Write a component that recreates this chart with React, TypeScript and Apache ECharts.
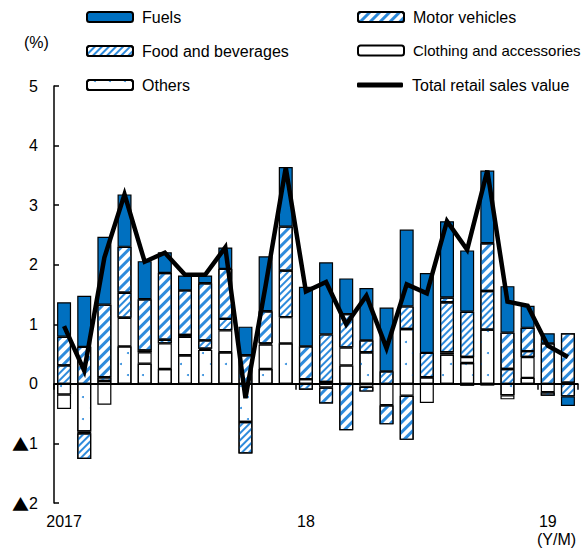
import React, { useEffect, useRef } from "react";
import * as echarts from "echarts";

const months = [
  "2017/1", "2017/2", "2017/3", "2017/4", "2017/5", "2017/6", "2017/7", "2017/8", "2017/9", "2017/10", "2017/11", "2017/12",
  "2018/1", "2018/2", "2018/3", "2018/4", "2018/5", "2018/6", "2018/7", "2018/8", "2018/9", "2018/10", "2018/11", "2018/12",
  "2019/1", "2019/2",
];
const yearLabels = ["2017", "18", "19"];

const others = [-0.18, -0.8, 0.05, 0.63, 0.34, 0.25, 0.48, 0.57, 0.53, -0.64, 0.25, 0.68, 0.08, 0.03, 0.31, 0.53, 0, 0.92, 0.11, 0.49, 0.35, 0.91, -0.19, 0.1, 0, 0.02];
const clothing = [-0.24, -0.03, -0.35, 0.48, 0.19, 0.43, 0.31, 0.02, 0.37, 0, 0.41, 0.44, 0, -0.06, 0.3, -0.05, -0.36, -0.2, -0.32, 0.04, 0.1, -0.03, -0.07, 0.35, -0.14, 0];
const food = [0.31, -0.43, 0.06, 0.42, 0.03, 0.06, 0.03, 0.14, 0.19, -0.53, 0.02, 0.78, -0.1, 0.8, 0.56, 0.2, 0.21, 0.38, 0.41, 0.84, 0.76, 0.65, 0.25, 0.1, -0.06, -0.21];
const motor = [0.48, 0.62, 1.22, 0.77, 0.86, 1.12, 0.75, 0.96, 0.84, 0.48, 0.54, 0.74, 0.55, -0.27, -0.78, -0.08, -0.32, -0.74, 0, 0.08, -0.03, 0.8, 0.61, 0.39, 0.68, 0.83];
const fuels = [0.58, 0.86, 1.14, 0.88, 0.64, 0.35, 0.25, 0.13, 0.36, 0.48, 0.92, 1.0, 1.0, 1.21, 0.6, 0.88, 1.07, 1.29, 1.34, 1.28, 1.03, 1.22, 0.78, 0.37, 0.17, -0.16];
const total = [0.97, 0.22, 2.12, 3.18, 2.05, 2.2, 1.83, 1.83, 2.29, -0.24, 1.65, 3.63, 1.55, 1.71, 1.0, 1.48, 0.6, 1.67, 1.52, 2.73, 2.25, 3.58, 1.38, 1.31, 0.64, 0.45];

const BLUE = "#0070c0";
const STRIPE = "#2e8bdc";
const FONT = "'Liberation Sans', Arial, sans-serif";
const CJK = "'Noto Sans CJK JP', 'DejaVu Sans', sans-serif";

const nz = (arr: number[]) => arr.map((v) => (v === 0 ? "-" : v));

export default function App() {
  const ref = useRef<HTMLDivElement>(null);
  useEffect(() => {
    if (!ref.current) return;
    const chart = echarts.init(ref.current, undefined, { renderer: "svg" });
    const border = { borderColor: "#000", borderWidth: 1.2 };
    const barBase = {
      type: "bar",
      stack: "s",
      barWidth: 14,
    };
    const legendBase = {
      orient: "vertical",
      padding: 0,
      itemGap: 18,
      itemWidth: 46,
      itemHeight: 10,
      textStyle: { fontSize: 16, color: "#000", fontFamily: FONT, padding: [0, 0, 0, 4] },
      selectedMode: false,
    };
    const option: any = {
      animation: false,
      backgroundColor: "#fff",
      textStyle: { fontFamily: FONT },
      grid: { left: 54, right: 4, top: 86, bottom: 56, containLabel: false },
      legend: [
        { ...legendBase, left: 86, top: 9, data: ["Fuels", "Food and beverages", "Others"] },
        {
          ...legendBase,
          left: 357,
          top: 9,
          data: [
            "Motor vehicles",
            { name: "Clothing and accessories", textStyle: { fontSize: 15, color: "#000", fontFamily: FONT, padding: [0, 0, 0, 4] } },
          ],
        },
        {
          ...legendBase,
          left: 357,
          top: 77,
          itemHeight: 5,
          data: [{ name: "Total retail sales value", icon: "roundRect" }],
          itemStyle: { color: "#000", borderWidth: 0 },
        },
      ],
      xAxis: {
        type: "category",
        data: months,
        boundaryGap: true,
        axisLine: { show: true, lineStyle: { color: "#000", width: 1.5 } },
        axisTick: {
          show: true,
          interval: (i: number) => i % 12 === 0,
          length: 6,
          lineStyle: { color: "#000", width: 1.5 },
        },
        axisLabel: {
          interval: (i: number) => i % 12 === 0,
          formatter: (_v: string, i: number) => yearLabels[Math.floor(i / 12)],
          color: "#000",
          fontSize: 16,
          fontFamily: FONT,
          margin: 10,
        },
      },
      yAxis: {
        type: "value",
        min: -2,
        max: 5,
        interval: 1,
        axisLine: { show: true, lineStyle: { color: "#000", width: 1.5 } },
        axisTick: { show: true, inside: true, length: 5, lineStyle: { color: "#000", width: 1.5 } },
        splitLine: { show: false },
        axisLabel: {
          color: "#000",
          fontSize: 16,
          fontFamily: FONT,
          margin: 16,
          formatter: (v: number) => (v < 0 ? "{t|▲}" + -v : String(v)),
          rich: {
            t: { fontFamily: CJK, fontSize: 17, color: "#000" },
          },
        },
      },
      graphic: [
        { type: "text", left: 24, top: 34, style: { text: "(%)", fontSize: 16, fontFamily: FONT, fill: "#000" } },
        { type: "text", left: 537, top: 531, style: { text: "(Y/M)", fontSize: 16, fontFamily: FONT, fill: "#000" } },
      ],
      series: [
        {
          ...barBase,
          name: "Others",
          data: nz(others),
          itemStyle: {
            color: "#fff",
            ...border,
            decal: {
              symbol: "circle",
              symbolSize: 1,
              color: STRIPE,
              dashArrayX: [[1.6, 12.4], [0, 7, 1.6, 5.4]],
              dashArrayY: [1.6, 8.4],
            },
          },
        },
        {
          ...barBase,
          name: "Clothing and accessories",
          data: nz(clothing),
          itemStyle: { color: "#fff", ...border },
        },
        {
          ...barBase,
          name: "Food and beverages",
          data: nz(food),
          itemStyle: {
            color: "#fff",
            ...border,
            decal: {
              symbol: "rect",
              symbolSize: 1,
              color: STRIPE,
              dashArrayX: [1, 0],
              dashArrayY: [2, 2.5],
              rotation: -Math.PI / 4,
            },
          },
        },
        {
          ...barBase,
          name: "Motor vehicles",
          data: nz(motor),
          itemStyle: {
            color: "#fff",
            ...border,
            decal: {
              symbol: "rect",
              symbolSize: 1,
              color: STRIPE,
              dashArrayX: [1, 0],
              dashArrayY: [3, 4],
              rotation: -Math.PI / 4,
            },
          },
        },
        {
          ...barBase,
          name: "Fuels",
          data: nz(fuels),
          itemStyle: { color: BLUE, ...border },
        },
        {
          type: "line",
          name: "Total retail sales value",
          data: total,
          symbol: "none",
          z: 5,
          itemStyle: { color: "#000" },
          lineStyle: { color: "#000", width: 4.5, join: "miter" },
          markLine: {
            silent: true,
            symbol: ["none", "none"],
            label: { show: false },
            lineStyle: { color: "#000", width: 2, type: "solid" },
            data: [{ yAxis: 0 }],
          },
        },
      ],
    };
    chart.setOption(option);
    return () => chart.dispose();
  }, []);
  return (
    <div
      ref={ref}
      style={{ position: "fixed", left: 0, top: 0, width: 582, height: 559, background: "#fff" }}
    />
  );
}
